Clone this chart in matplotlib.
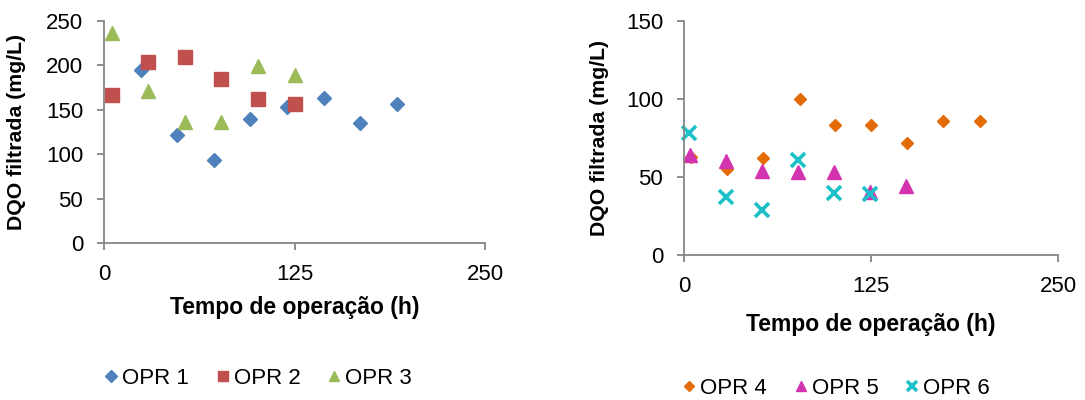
import matplotlib
matplotlib.use("Agg")
import matplotlib.pyplot as plt

plt.rcParams['font.family'] = ['Liberation Sans', 'DejaVu Sans']

# Left chart data
t_opr1 = [24, 48, 72, 96, 120, 144, 168, 192]
v_opr1 = [195, 122, 94, 140, 153, 163, 135, 156]
t_opr2 = [5, 29, 53, 77, 101, 125]
v_opr2 = [166, 204, 209, 185, 162, 157]
t_opr3 = [5, 29, 53, 77, 101, 125]
v_opr3 = [236, 171, 136, 136, 199, 189]

# Right chart data
t_opr4 = [4.5, 29, 53, 77.5, 101, 125, 149, 173, 197.5]
v_opr4 = [63, 55, 62, 100, 83.5, 83.5, 72, 86, 86]
t_opr5 = [4, 28, 52, 76, 100, 124, 148]
v_opr5 = [64, 60, 54, 53.5, 53, 40.5, 44]
t_opr6 = [3.5, 28, 52, 76, 100, 124]
v_opr6 = [78, 37, 29, 61, 40, 39]

left_yticks = [0, 50, 100, 150, 200, 250]
right_yticks = [0, 50, 100, 150]
xticks = [0, 125, 250]

ylabel = "DQO filtrada (mg/L)"
xlabel = "Tempo de operação (h)"

W, H = 1085, 400
fig = plt.figure(figsize=(W / 100, H / 100), dpi=100)

axL = fig.add_axes([104 / W, 1 - 243.3 / H, (485.3 - 104) / W, (243.3 - 20.7) / H])
axR = fig.add_axes([684 / W, 1 - 255.3 / H, (1058.3 - 684) / W, (255.3 - 20.7) / H])

spine_col = '#868686'
fs = 16

def style(ax, yticks):
    for s in ['top', 'right']:
        ax.spines[s].set_visible(False)
    for s in ['left', 'bottom']:
        ax.spines[s].set_color(spine_col)
        ax.spines[s].set_linewidth(1.3)
    ax.set_xlim(0, 250)
    ax.set_xticks(xticks)
    ax.set_ylim(yticks[0], yticks[-1])
    ax.set_yticks(yticks)
    ax.tick_params(axis='both', direction='out', length=5, width=1.3,
                   color=spine_col, labelsize=fs, pad=10)
    ax.set_ylabel(ylabel, fontsize=15.3, fontweight='bold')
    ax.set_xlabel(xlabel, fontsize=16.5, fontweight='bold')

style(axL, left_yticks)
style(axR, right_yticks)

hL = []
hL.append(axL.plot(t_opr1, v_opr1, 'D', color='#4F81BD', ms=7.5, mec='#4F81BD', label='OPR 1', clip_on=False, linestyle='none')[0])
hL.append(axL.plot(t_opr2, v_opr2, 's', color='#C0504D', ms=10.5, mec='#C0504D', label='OPR 2', clip_on=False, linestyle='none')[0])
hL.append(axL.plot(t_opr3, v_opr3, '^', color='#9BBB59', ms=10, mec='#9BBB59', label='OPR 3', clip_on=False, linestyle='none')[0])

hR = []
hR.append(axR.plot(t_opr4, v_opr4, 'D', color='#E36C09', ms=6.2, mec='#E36C09', label='OPR 4', clip_on=False, linestyle='none')[0])
hR.append(axR.plot(t_opr5, v_opr5, '^', color='#D433B0', ms=9.5, mec='#D433B0', label='OPR 5', clip_on=False, linestyle='none')[0])
hR.append(axR.plot(t_opr6, v_opr6, 'x', color='#1CC0C8', ms=10, mew=2.6, label='OPR 6', clip_on=False, linestyle='none')[0])

axL.yaxis.set_label_coords(-0.205, 0.5)
axL.xaxis.set_label_coords(0.5, -0.235)
axR.yaxis.set_label_coords(-0.2, 0.5)
axR.xaxis.set_label_coords(0.5, -0.245)

legL = fig.legend(handles=hL, loc='center', bbox_to_anchor=(257 / W, 1 - 378 / H),
                  ncol=3, frameon=False, fontsize=fs, handlelength=0.8,
                  handletextpad=0.1, columnspacing=1.1, markerscale=0.75)
legR = fig.legend(handles=hR, loc='center', bbox_to_anchor=(835 / W, 1 - 388 / H),
                  ncol=3, frameon=False, fontsize=fs, handlelength=0.8,
                  handletextpad=0.1, columnspacing=1.1, markerscale=0.75)

fig.savefig('out.png', dpi=100)
